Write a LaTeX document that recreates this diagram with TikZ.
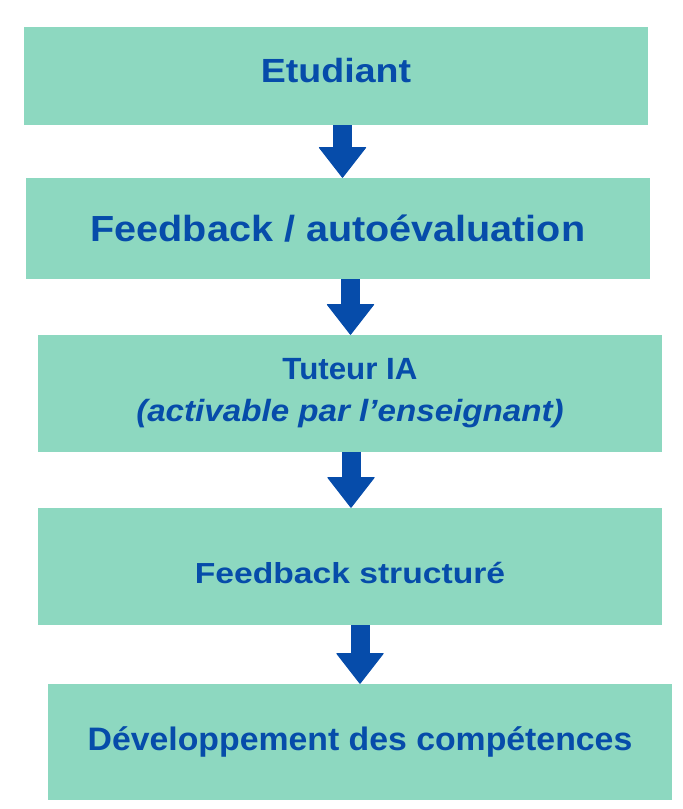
\documentclass[tikz,border=0pt]{standalone}
\usepackage{fontspec}
\setmainfont{Liberation Sans}
\usetikzlibrary{arrows.meta}
\definecolor{boxgreen}{RGB}{141,216,192}
\definecolor{darkblue}{RGB}{6,76,170}

\begin{document}
\begin{tikzpicture}[x=1pt,y=-1pt,
  stage/.style={shape=rectangle,fill=boxgreen,draw=none,text=darkblue,inner sep=0pt,align=center,minimum width=624pt},
  flow/.style={draw=darkblue,fill=darkblue,line width=19pt,-{Triangle[width=48pt,length=31pt,line width=1pt,round]}}]
\useasboundingbox (0,0) rectangle (683,809);

% the five stages
\node[stage,minimum height=98pt,text height=24pt,text depth=12pt,font=\bfseries\fontsize{33.5}{40}\selectfont] (etud) at (336,76) {\scalebox{1.12}[1]{Etudiant}};
\node[stage,minimum height=101pt,font=\bfseries\fontsize{36.3}{44}\selectfont] (auto) at (338,228.5) {\scalebox{1.09}[1]{Feedback / autoévaluation}};
\node[stage,minimum height=117pt,font=\bfseries\fontsize{30.7}{42}\selectfont] (tuteur) at (350,393.5) {\scalebox{1.02}[1]{Tuteur IA}\\ \scalebox{1.08}[1]{\itshape (activable par l’enseignant)}};
\node[stage,minimum height=117pt,text height=38pt,text depth=4pt,font=\bfseries\fontsize{29}{36}\selectfont] (struct) at (350,566.5) {\scalebox{1.16}[1]{Feedback structuré}};
\node[stage,minimum height=116pt,font=\bfseries\fontsize{32.5}{40}\selectfont] (dev) at (360,742) {\scalebox{1.04}[1]{Développement des compétences}};

% arrow axes
\coordinate (a1) at (342.5,0);
\coordinate (a2) at (350.5,0);
\coordinate (a3) at (351,0);
\coordinate (a4) at (360,0);

\draw[flow] (etud.south -| a1) -- (auto.north -| a1);
\draw[flow] (auto.south -| a2) -- (tuteur.north -| a2);
\draw[flow] (tuteur.south -| a3) -- (struct.north -| a3);
\draw[flow] (struct.south -| a4) -- (dev.north -| a4);
\end{tikzpicture}
\end{document}
